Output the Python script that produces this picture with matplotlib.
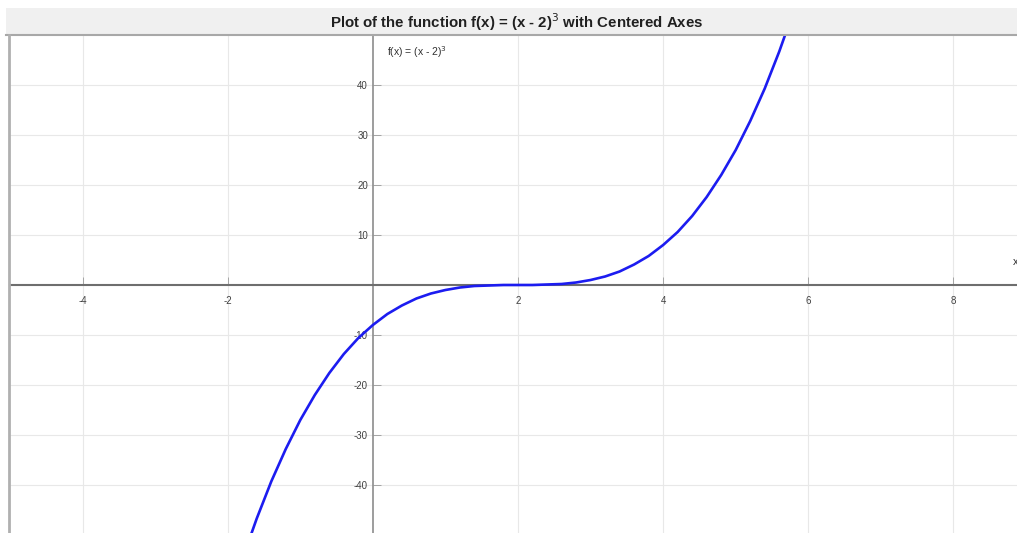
import matplotlib.pyplot as plt
from matplotlib.patches import Rectangle
from matplotlib.lines import Line2D

plt.rcParams['font.family'] = ['Liberation Sans', 'DejaVu Sans']
plt.rcParams['axes.unicode_minus'] = False

# points
xs = [-1.8, -1.6, -1.4, -1.2, -1.0, -0.8, -0.6, -0.4, -0.2, 0.0, 0.2, 0.4,
      0.6, 0.8, 1.0, 1.2, 1.4, 1.6, 1.8, 2.0, 2.2, 2.4, 2.6, 2.8, 3.0, 3.2,
      3.4, 3.6, 3.8, 4.0, 4.2, 4.4, 4.6, 4.8, 5.0, 5.2, 5.4, 5.6, 5.8]
ys = [-54.9, -46.7, -39.3, -32.8, -27.0, -22.0, -17.6, -13.8, -10.6, -8.0,
      -5.8, -4.1, -2.7, -1.7, -1.0, -0.5, -0.2, -0.1, 0.0, 0.0, 0.0, 0.1,
      0.2, 0.5, 1.0, 1.7, 2.7, 4.1, 5.8, 8.0, 10.6, 13.8, 17.6, 22.0, 27.0,
      32.8, 39.3, 46.7, 54.9]

xticks = [-4, -2, 2, 4, 6, 8]
yticks = [-40, -30, -20, -10, 10, 20, 30, 40]

W, H = 1017, 533
fig = plt.figure(figsize=(W / 100, H / 100), dpi=100)
fig.patch.set_facecolor('white')

# gray title band
fig.patches.append(Rectangle((6 / W, (H - 35) / H), 1, 27 / H, transform=fig.transFigure,
                             facecolor='#f0f0f0', edgecolor='none', zorder=0))
fig.lines.append(Line2D([6 / W, 1], [(H - 35) / H] * 2, transform=fig.transFigure,
                        color='#a8a8a8', lw=1.5))
fig.lines.append(Line2D([9 / W] * 2, [0, (H - 35) / H], transform=fig.transFigure,
                        color='#b0b0b0', lw=2))

ax = fig.add_axes([10 / W, -2 / H, 1016 / W, 500 / H])
ax.plot(xs, ys, color='#1c1cf0', lw=1.9, solid_joinstyle='round', zorder=3)
ax.set_xlim(-5, 9)
ax.set_ylim(-50, 50)

ax.spines['left'].set_position(('data', 0))
ax.spines['bottom'].set_position(('data', 0))
ax.spines['left'].set_color('#8c8c8c')
ax.spines['bottom'].set_color('#6e6e6e')
ax.spines['left'].set_linewidth(1.2)
ax.spines['bottom'].set_linewidth(1.5)
for s in ['top', 'right']:
    ax.spines[s].set_visible(False)

ax.set_xticks(xticks)
ax.set_yticks(yticks)
ax.tick_params(direction='in', length=6, width=0.6, color='#9a9a9a',
               labelsize=7, labelcolor='#404040')
ax.tick_params(axis='x', pad=8)
ax.grid(True, color='#e8e8e8', lw=0.8, zorder=0)

ax.text(0.2, 46.5, 'f(x) = (x - 2)$^3$', fontsize=7.5, color='#303030', va='center')
ax.text(8.82, 4.6, 'x', fontsize=8, color='#303030', va='center')

fig.text(517 / W, (H - 22) / H, 'Plot of the function f(x) = (x - 2)$^3$ with Centered Axes',
         ha='center', va='center', fontsize=10.8, fontweight='bold', color='#202020')

fig.savefig('out.png', dpi=100)
